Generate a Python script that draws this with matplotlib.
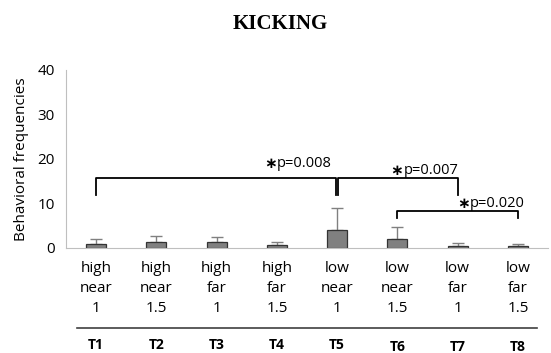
import numpy as np
import matplotlib.pyplot as plt
from matplotlib.lines import Line2D

# data
TRIALS = ['T1', 'T2', 'T3', 'T4', 'T5', 'T6', 'T7', 'T8']
LEVEL = ['high', 'high', 'high', 'high', 'low', 'low', 'low', 'low']
DIST = ['near', 'near', 'far', 'far', 'near', 'near', 'far', 'far']
SIZE = ['1', '1.5', '1', '1.5', '1', '1.5', '1', '1.5']
MEANS = [1.0, 1.4, 1.3, 0.6, 4.1, 2.0, 0.4, 0.4]
SD = [1.1, 1.3, 1.2, 0.7, 4.9, 2.8, 0.8, 0.6]

# significance brackets: (from, to, line height, leg bottom, label)
BRACKETS = [(0, 4, 15.8, 12.0, 'p=0.008'),
            (4, 6, 15.8, 12.0, 'p=0.007'),
            (5, 7, 8.4, 6.8, 'p=0.020')]
# where each p label starts (x) and its bottom (y)
LABEL_POS = [(3.0, 17.4), (5.1, 15.7), (6.2, 8.4)]

plt.rcParams['font.family'] = ['Open Sans', 'DejaVu Sans']

fig = plt.figure(figsize=(5.51, 3.53), dpi=100)
ax = fig.add_axes([0.1198, 0.2975, 0.8748, 0.5042])

x = np.arange(len(TRIALS))
ax.bar(x, MEANS, width=0.33, color='#808080', edgecolor='#333333', linewidth=0.9, zorder=2)
ax.errorbar(x, MEANS, yerr=[np.zeros(len(SD)), SD], fmt='none', ecolor='#808080',
            elinewidth=1, capsize=4, capthick=1, zorder=1)

ax.set_xlim(-0.5, len(TRIALS) - 0.5)
ax.set_ylim(0, 40)
ax.set_yticks([0, 10, 20, 30, 40])
ax.set_xticks([])
ax.tick_params(axis='y', length=0, labelsize=11, pad=8)
for s in ['top', 'right']:
    ax.spines[s].set_visible(False)
ax.spines['left'].set_color('#bfbfbf')
ax.spines['bottom'].set_color('#bfbfbf')
ax.set_ylabel('Behavioral frequencies', fontsize=11, labelpad=6)

# brackets
for (i, j, h, b, lab), (lx, ly) in zip(BRACKETS, LABEL_POS):
    xi = i + (0.02 if i == 4 else 0)
    xj = j - (0.02 if j == 4 else 0)
    ax.plot([xi, xi, xj, xj], [b, h, h, b], color='black', lw=1.3, clip_on=False)
    ax.text(lx, ly, '\u2217', ha='right', va='bottom', fontsize=11,
            family='DejaVu Sans', fontweight='bold')
    ax.text(lx, ly, lab, ha='left', va='bottom', fontsize=10.5)

# category labels under the axis
trans = ax.get_xaxis_transform()
for k in range(len(TRIALS)):
    ax.text(x[k], -0.075, LEVEL[k] + '\n' + DIST[k] + '\n' + SIZE[k], transform=trans,
            ha='center', va='top', fontsize=11, linespacing=1.42)
    ax.text(x[k], -0.545 - (0.012 if k >= 5 else 0), TRIALS[k], transform=trans,
            ha='center', va='center', fontsize=10, fontweight='bold')

fig.add_artist(Line2D([77 / 551, 537 / 551], [1 - 328 / 353, 1 - 328 / 353],
                      color='#404040', lw=1.2))

fig.text(0.508, 1 - 24 / 353, 'KICKING', ha='center', va='center', fontsize=15,
         fontweight='bold', family='Liberation Serif')

fig.savefig('out.png', dpi=100)
